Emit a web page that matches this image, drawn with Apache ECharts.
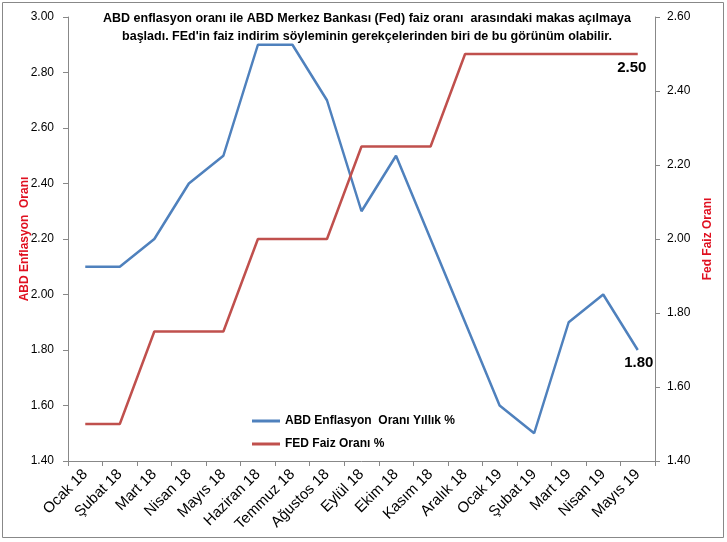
<!DOCTYPE html>
<html><head><meta charset="utf-8">
<script src="https://cdn.jsdelivr.net/npm/echarts@6/dist/echarts.min.js"></script>
<style>html,body{margin:0;padding:0;background:#fff}#c{width:727px;height:542px}</style>
</head><body><div id="c"></div>
<script>
const categories = ['Ocak 18','Şubat 18','Mart 18','Nisan 18','Mayıs 18','Haziran 18','Temmuz 18','Ağustos 18','Eylül 18','Ekim 18','Kasım 18','Aralık 18','Ocak 19','Şubat 19','Mart 19','Nisan 19','Mayıs 19'];
const inflation = [2.1,2.1,2.2,2.4,2.5,2.9,2.9,2.7,2.3,2.5,2.2,1.9,1.6,1.5,1.9,2.0,1.8];
const fedRate = [1.5,1.5,1.75,1.75,1.75,2.0,2.0,2.0,2.25,2.25,2.25,2.5,2.5,2.5,2.5,2.5,2.5];
const titleLines = ['ABD enflasyon oranı ile ABD Merkez Bankası (Fed) faiz oranı  arasındaki makas açılmaya','başladı. FEd\'in faiz indirim söyleminin gerekçelerinden biri de bu görünüm olabilir.'];
const seriesNames = ['ABD Enflasyon  Oranı Yıllık %','FED Faiz Oranı %'];
const FONT = '"Liberation Sans",Arial,sans-serif';
const chart = echarts.init(document.getElementById('c'));
const endLbl = (offset) => ({show:true, formatter:p=>Number(p.value).toFixed(2), position:'right', distance:0,
  align:'center', verticalAlign:'middle', offset:offset, fontWeight:'bold', fontSize:15, color:'#000', fontFamily:FONT});
chart.setOption({
  animation:false,
  textStyle:{fontFamily:FONT},
  title:{text:titleLines.join('\n'), left:362, top:5, textAlign:'center',
    textStyle:{fontSize:12.5, fontWeight:'bold', color:'#000', lineHeight:18, fontFamily:FONT}},
  graphic:[{type:'rect', shape:{x:2.5,y:2.5,width:721,height:535}, style:{fill:'none', stroke:'#888', lineWidth:1}, silent:true}],
  legend:{orient:'vertical', left:252, top:415, padding:0, itemGap:11, itemWidth:28, itemHeight:3,
    icon:'rect', textStyle:{fontSize:12, fontWeight:'bold', color:'#000', fontFamily:FONT},
    data:seriesNames},
  grid:{left:68, right:72, top:17, bottom:81},
  xAxis:{type:'category', data:categories, boundaryGap:true,
    axisLine:{lineStyle:{color:'#888'}}, axisTick:{show:true, length:5, lineStyle:{color:'#888'}},
    axisLabel:{rotate:45, fontSize:15, color:'#000', margin:11, interval:0, fontFamily:FONT}},
  yAxis:[
    {type:'value', min:1.4, max:3.0, interval:0.2, position:'left',
     name:'ABD Enflasyon  Oranı', nameLocation:'middle', nameGap:37, nameRotate:90, nameMoveOverlap:false,
     nameTextStyle:{color:'#e01020', fontWeight:'bold', fontSize:12, fontFamily:FONT},
     axisLine:{show:true, lineStyle:{color:'#888'}}, axisTick:{show:true, length:5, lineStyle:{color:'#888'}},
     splitLine:{show:false},
     axisLabel:{formatter:v=>v.toFixed(2), color:'#000', fontSize:12, margin:14, fontFamily:FONT}},
    {type:'value', min:1.4, max:2.6, interval:0.2, position:'right',
     name:'Fed Faiz Oranı', nameLocation:'middle', nameGap:47, nameRotate:90, nameMoveOverlap:false,
     nameTextStyle:{color:'#e01020', fontWeight:'bold', fontSize:12, fontFamily:FONT},
     axisLine:{show:true, lineStyle:{color:'#888'}}, axisTick:{show:true, length:5, lineStyle:{color:'#888'}},
     splitLine:{show:false},
     axisLabel:{formatter:v=>v.toFixed(2), color:'#000', fontSize:12, margin:12, fontFamily:FONT}}
  ],
  series:[
    {name:seriesNames[0], type:'line', yAxisIndex:0, data:inflation, symbol:'none',
     endLabel:endLbl([1,13]),
     lineStyle:{color:'#4F81BD', width:2.5}, itemStyle:{color:'#4F81BD'}},
    {name:seriesNames[1], type:'line', yAxisIndex:1, data:fedRate, symbol:'none',
     endLabel:endLbl([-6,14]),
     lineStyle:{color:'#C0504D', width:2.5}, itemStyle:{color:'#C0504D'}}
  ]
});
</script></body></html>
